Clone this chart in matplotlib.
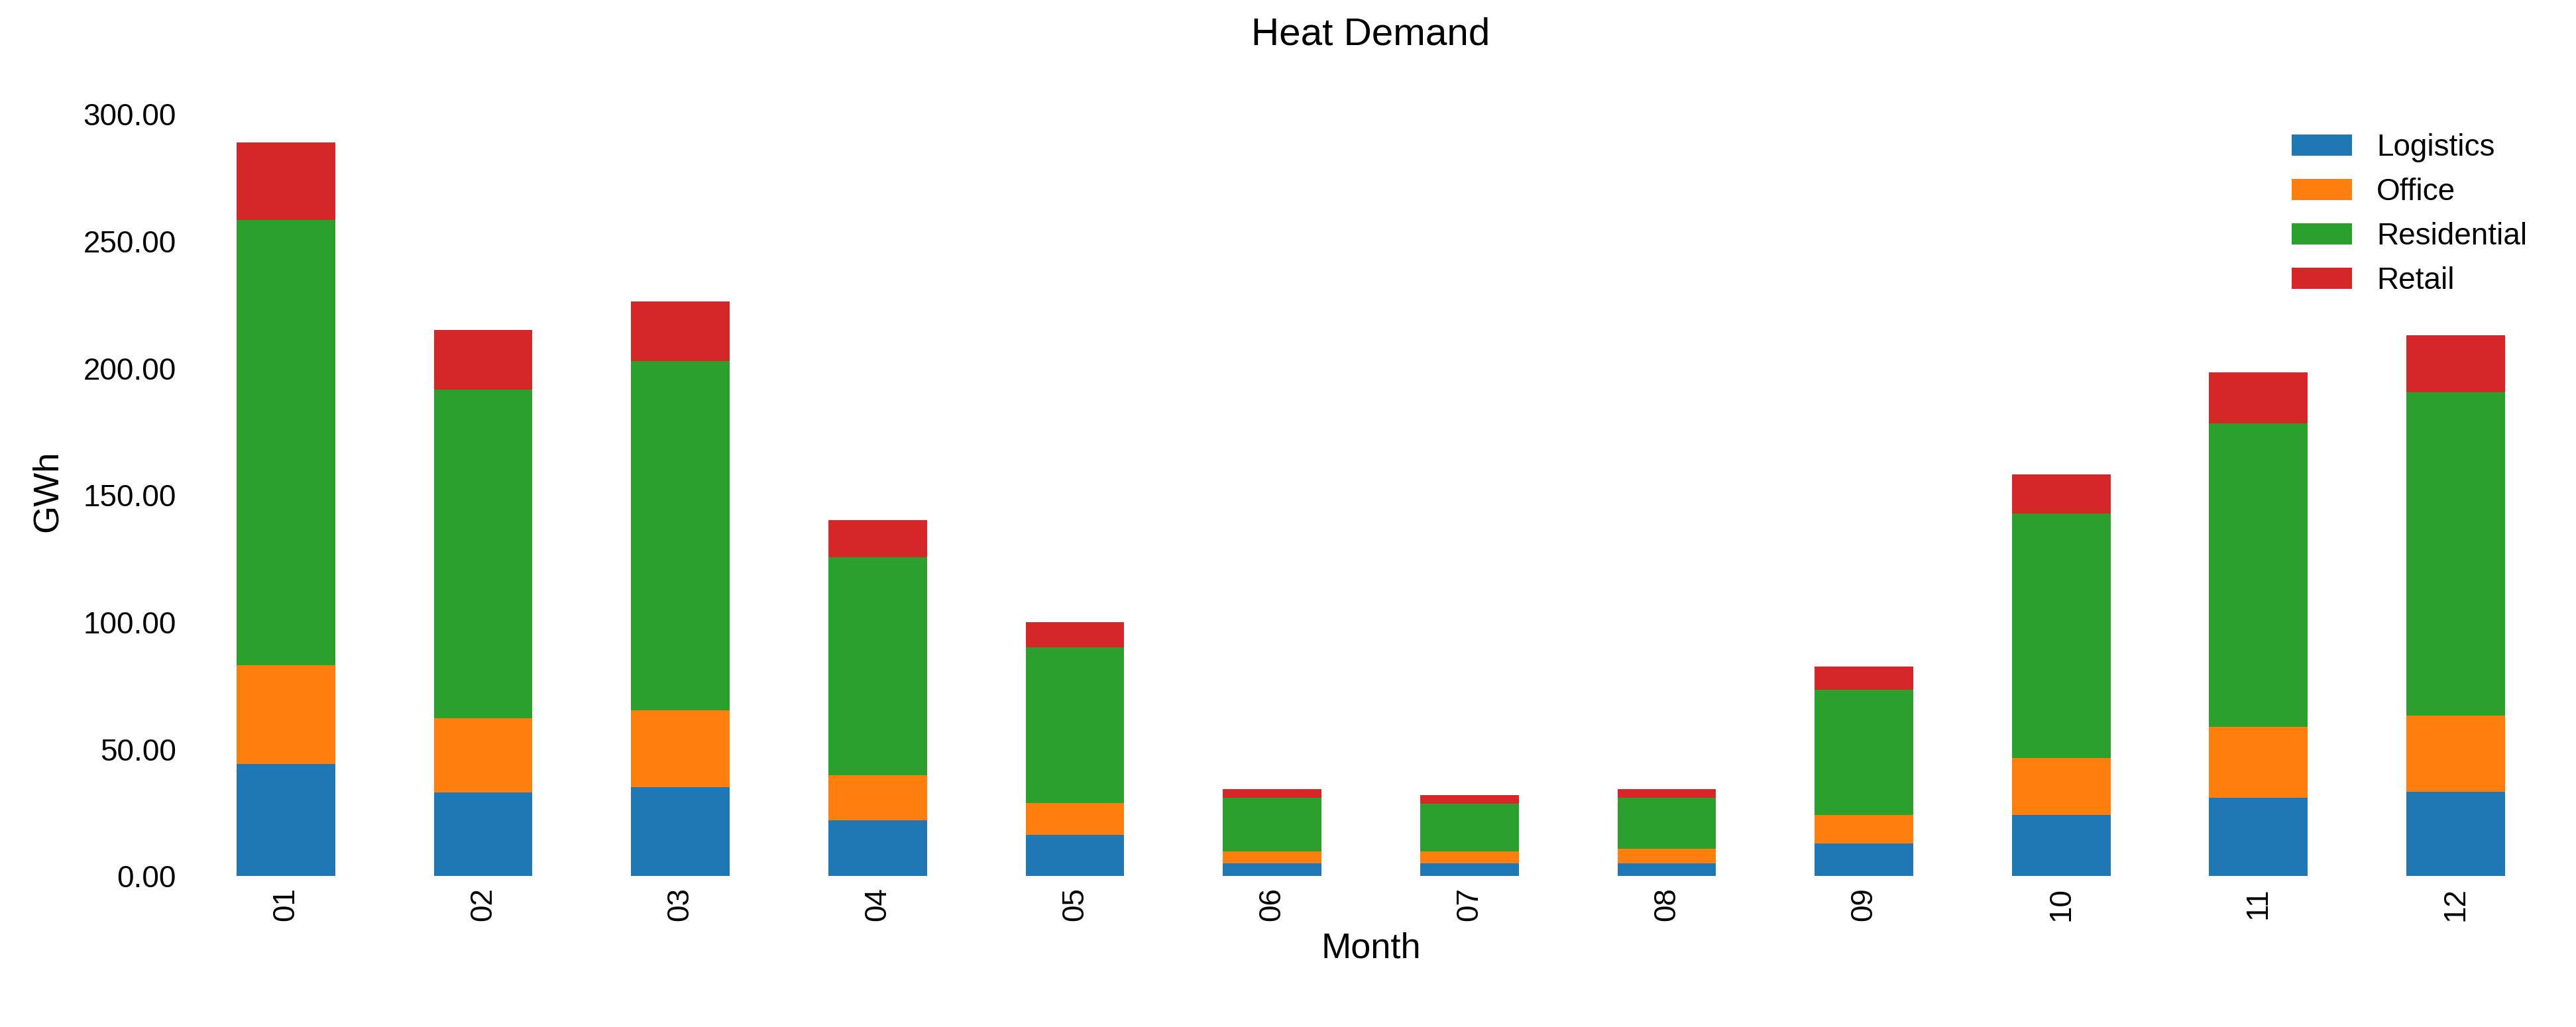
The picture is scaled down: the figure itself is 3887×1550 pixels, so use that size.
import matplotlib
matplotlib.use("Agg")
import matplotlib.pyplot as plt
import numpy as np
from matplotlib.ticker import FormatStrFormatter

months = ["01", "02", "03", "04", "05", "06", "07", "08", "09", "10", "11", "12"]
logistics = [44.3, 33.0, 35.2, 22.0, 16.4, 5.2, 5.2, 5.2, 13.0, 24.2, 31.0, 33.2]
office = [38.9, 29.1, 30.1, 17.7, 12.3, 4.5, 4.5, 5.6, 11.1, 22.4, 27.8, 30.1]
residential = [175.3, 129.4, 137.4, 86.0, 61.5, 21.3, 18.9, 20.2, 49.2, 96.1, 119.5, 127.3]
retail = [30.4, 23.5, 23.7, 14.5, 9.9, 3.3, 3.3, 3.3, 9.2, 15.5, 20.1, 22.3]

series_names = ["Logistics", "Office", "Residential", "Retail"]
series_values = [logistics, office, residential, retail]
colors = ["#1f77b4", "#ff7f0e", "#2ca02c", "#d62728"]

plt.rcParams["font.family"] = ["Liberation Sans", "DejaVu Sans"]

fig = plt.figure(figsize=(3887 / 300, 1550 / 300), dpi=300)
ax = fig.add_axes([0.0727, 0.1468, 0.9189, 0.7502])

x = np.arange(len(months))
bottom = np.zeros(len(months))
for name, vals, c in zip(series_names, series_values, colors):
    v = np.array(vals)
    ax.bar(x, v, width=0.5, bottom=bottom, color=c, label=name, linewidth=0)
    bottom += v

ax.set_xlim(-0.5, len(months) - 0.5)
ax.set_ylim(0, bottom.max() * 1.05)
ax.set_xticks(x)
ax.set_xticklabels(months, rotation=90, fontsize=11)
ax.yaxis.set_major_formatter(FormatStrFormatter("%.2f"))
ax.set_yticks([0, 50, 100, 150, 200, 250, 300])
ax.tick_params(axis="both", length=0, labelsize=11, pad=4)
for s in ax.spines.values():
    s.set_visible(False)

ax.set_xlabel("Month", fontsize=13, labelpad=4)
ax.set_ylabel("GWh", fontsize=13, labelpad=7)
ax.set_title("Heat Demand", fontsize=14, pad=22)

ax.legend(loc="upper right", frameon=False, fontsize=11)

fig.savefig("out.png", dpi=300)
